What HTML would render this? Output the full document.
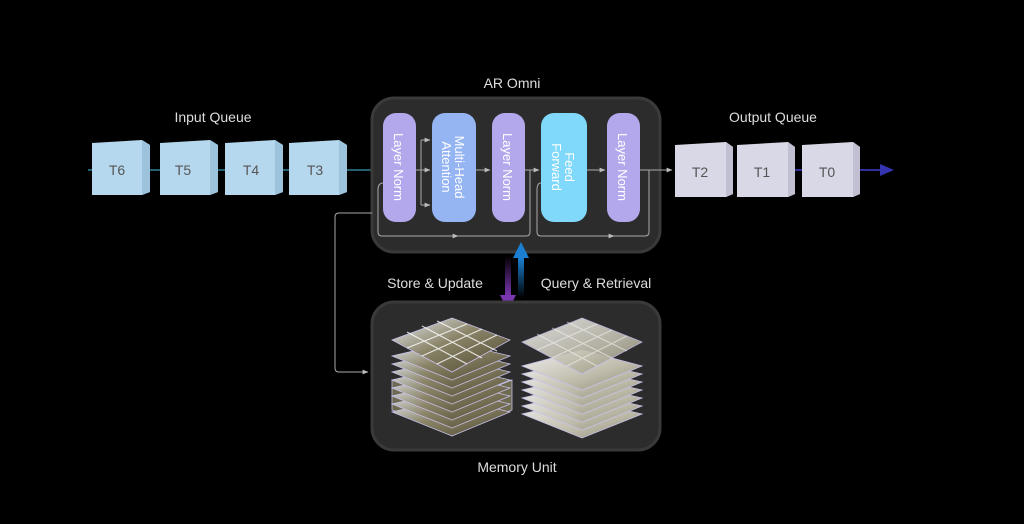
<!DOCTYPE html>
<html><head><meta charset="utf-8"><style>
html,body{margin:0;padding:0;background:#000;width:1024px;height:524px;overflow:hidden}
svg{display:block}
text{font-family:"Liberation Sans",sans-serif}
</style></head><body>
<svg width="1024" height="524" viewBox="0 0 1024 524" xmlns="http://www.w3.org/2000/svg">
<defs>
<marker id="ag" viewBox="0 0 10 10" refX="9" refY="5" markerWidth="6" markerHeight="6" orient="auto"><path d="M0,1 L10,5 L0,9 z" fill="#bbb"/></marker>
<marker id="at" viewBox="0 0 10 10" refX="9" refY="5" markerWidth="6" markerHeight="6" orient="auto"><path d="M0,1 L10,5 L0,9 z" fill="#3a9cc0"/></marker>
<linearGradient id="pu" x1="0" y1="0" x2="0" y2="1"><stop offset="0" stop-color="#000"/><stop offset="1" stop-color="#7a35b0"/></linearGradient>
<linearGradient id="bl" x1="0" y1="1" x2="0" y2="0"><stop offset="0" stop-color="#000"/><stop offset="1" stop-color="#1a7fd0"/></linearGradient>
<linearGradient id="img1" x1="0" y1="0" x2="1" y2="1"><stop offset="0" stop-color="#e8ecf2"/><stop offset=".45" stop-color="#8a8468"/><stop offset="1" stop-color="#4e4a30"/></linearGradient>
<linearGradient id="img2" x1="0" y1="0" x2="1" y2="1"><stop offset="0" stop-color="#eeeeee"/><stop offset=".6" stop-color="#c0bcac"/><stop offset="1" stop-color="#8d8a72"/></linearGradient>
</defs>

<text x="213" y="122" fill="#ddd" font-size="14" text-anchor="middle">Input Queue</text>
<text x="773" y="122" fill="#ddd" font-size="14" text-anchor="middle">Output Queue</text>
<text x="512" y="88" fill="#ddd" font-size="14" text-anchor="middle">AR Omni</text>

<line x1="88" y1="170" x2="380" y2="170" stroke="#2f7f96" stroke-width="1.5" marker-end="url(#at)"/>
<line x1="790" y1="170" x2="892" y2="170" stroke="#2f2f9a" stroke-width="2"/>
<path d="M880,164 L894,170 L880,176 z" fill="#3434b0"/>

<rect x="372" y="98" width="288" height="154" rx="22" fill="#2c2c2c" stroke="#3a3a3a" stroke-width="3"/>

<g font-size="14" fill="#555" text-anchor="middle">
<g id="c"><path d="M92,143 L142,140 L150,145 L150,192 L142,195 L92,195 z" fill="#b6d8ee"/><path d="M142,140 L150,145 L150,192 L142,195 z" fill="#9cc2dc"/></g>
<use href="#c" x="68"/><use href="#c" x="133"/><use href="#c" x="197"/>
<text x="117" y="175">T6</text><text x="183" y="175">T5</text><text x="251" y="175">T4</text><text x="315" y="175">T3</text>
<g id="o"><path d="M675,145 L726,142 L733,147 L733,194 L726,197 L675,197 z" fill="#d8d8e6"/><path d="M726,142 L733,147 L733,194 L726,197 z" fill="#c0c0d2"/></g>
<use href="#o" x="62"/><use href="#o" x="127"/>
<text x="700" y="177">T2</text><text x="762" y="177">T1</text><text x="827" y="177">T0</text>
</g>

<g stroke="#aaa" stroke-width="1" fill="none">
<line x1="416" y1="170" x2="430" y2="170" marker-end="url(#ag)"/>
<path d="M421,140 L421,205" />
<line x1="421" y1="140" x2="430" y2="140" marker-end="url(#ag)"/>
<line x1="421" y1="205" x2="430" y2="205" marker-end="url(#ag)"/>
<line x1="476" y1="170" x2="490" y2="170" marker-end="url(#ag)"/>
<line x1="525" y1="170" x2="539" y2="170" marker-end="url(#ag)"/>
<line x1="587" y1="170" x2="605" y2="170" marker-end="url(#ag)"/>
<line x1="640" y1="170" x2="672" y2="170" marker-end="url(#ag)"/>
<path d="M383,183 Q378,183 378,190 L378,232 Q378,236 382,236 L526,236 Q530,236 530,232 L530,170"/>
<line x1="440" y1="236" x2="458" y2="236" marker-end="url(#ag)"/>
<path d="M541,183 Q537,183 537,190 L537,232 Q537,236 541,236 L645,236 Q649,236 649,232 L649,170"/>
<line x1="596" y1="236" x2="614" y2="236" marker-end="url(#ag)"/>
<path d="M372,213 L339,213 Q335,213 335,217 L335,368 Q335,372 339,372 L368,372" marker-end="url(#ag)"/>
</g>

<rect x="383" y="113" width="33" height="109" rx="13" fill="#b4a8ec"/>
<rect x="432" y="113" width="44" height="109" rx="13" fill="#94b4f2"/>
<rect x="492" y="113" width="33" height="109" rx="13" fill="#b4a8ec"/>
<rect x="541" y="113" width="46" height="109" rx="13" fill="#80d8fa"/>
<rect x="607" y="113" width="33" height="109" rx="13" fill="#b4a8ec"/>
<g fill="#fff" font-size="13" text-anchor="middle">
<text transform="translate(399,167) rotate(90)" dy="5">Layer Norm</text>
<text transform="translate(454,167) rotate(90)" dy="-1">Multi-Head</text>
<text transform="translate(454,167) rotate(90)" dy="12">Attention</text>
<text transform="translate(508,167) rotate(90)" dy="5">Layer Norm</text>
<text transform="translate(564,167) rotate(90)" dy="-1">Feed</text>
<text transform="translate(564,167) rotate(90)" dy="12">Forward</text>
<text transform="translate(623,167) rotate(90)" dy="5">Layer Norm</text>
</g>

<rect x="505" y="256" width="6" height="40" fill="url(#pu)"/>
<path d="M500,295 L516,295 L508,311 z" fill="#7a35b0"/>
<rect x="518" y="258" width="6" height="40" fill="url(#bl)"/>
<path d="M513,258 L529,258 L521,242 z" fill="#1a7fd0"/>
<text x="435" y="288" fill="#ddd" font-size="14" text-anchor="middle">Store &amp; Update</text>
<text x="596" y="288" fill="#ddd" font-size="14" text-anchor="middle">Query &amp; Retrieval</text>

<rect x="372" y="302" width="288" height="148" rx="22" fill="#2c2c2c" stroke="#3a3a3a" stroke-width="3"/>
<text x="517" y="472" fill="#ddd" font-size="14" text-anchor="middle">Memory Unit</text>

<g stroke="#c8c0ea" stroke-width="0.8">
<path d="M452,404 L512,380 L512,410 L452,436 L392,410 L392,380 z" fill="#6e6a50"/>
<path d="M452,398 L510,412 L452,436 L392,412 z" fill="url(#img1)"/>
<path d="M452,390 L510,404 L452,428 L392,404 z" fill="url(#img1)"/>
<path d="M452,382 L510,396 L452,420 L392,396 z" fill="url(#img1)"/>
<path d="M452,374 L510,388 L452,412 L392,388 z" fill="url(#img1)"/>
<path d="M452,366 L510,380 L452,404 L392,380 z" fill="url(#img1)"/>
<path d="M452,358 L510,372 L452,396 L392,372 z" fill="url(#img1)"/>
<path d="M452,350 L510,364 L452,388 L392,364 z" fill="url(#img1)"/>
<path d="M452,342 L510,356 L452,380 L392,356 z" fill="url(#img1)"/>
<path d="M452,318 L510,340 L452,372 L392,340 z" fill="url(#img1)"/>
</g>
<g stroke="#fff" stroke-width="1.2" opacity=".8">
<line x1="407" y1="332" x2="467" y2="364"/><line x1="422" y1="326" x2="482" y2="358"/><line x1="437" y1="321" x2="497" y2="351"/>
<line x1="407" y1="348" x2="467" y2="324"/><line x1="422" y1="356" x2="482" y2="329"/><line x1="437" y1="364" x2="497" y2="335"/>
</g>
<g stroke="#c8c0ea" stroke-width="0.8">
<path d="M582,400 L642,414 L582,438 L522,414 z" fill="url(#img2)"/>
<path d="M582,392 L642,406 L582,430 L522,406 z" fill="url(#img2)"/>
<path d="M582,384 L642,398 L582,422 L522,398 z" fill="url(#img2)"/>
<path d="M582,376 L642,390 L582,414 L522,390 z" fill="url(#img2)"/>
<path d="M582,368 L642,382 L582,406 L522,382 z" fill="url(#img2)"/>
<path d="M582,360 L642,374 L582,398 L522,374 z" fill="url(#img2)"/>
<path d="M582,350 L642,366 L582,390 L522,366 z" fill="url(#img2)"/>
<path d="M582,318 L642,342 L582,374 L522,342 z" fill="url(#img2)" opacity=".9"/>
</g>
<g stroke="#fff" stroke-width="1" opacity=".5">
<line x1="537" y1="334" x2="597" y2="366"/><line x1="552" y1="328" x2="612" y2="358"/><line x1="567" y1="322" x2="627" y2="351"/>
<line x1="537" y1="350" x2="597" y2="324"/><line x1="552" y1="358" x2="612" y2="330"/><line x1="567" y1="366" x2="627" y2="336"/>
</g>
</svg>
</body></html>
